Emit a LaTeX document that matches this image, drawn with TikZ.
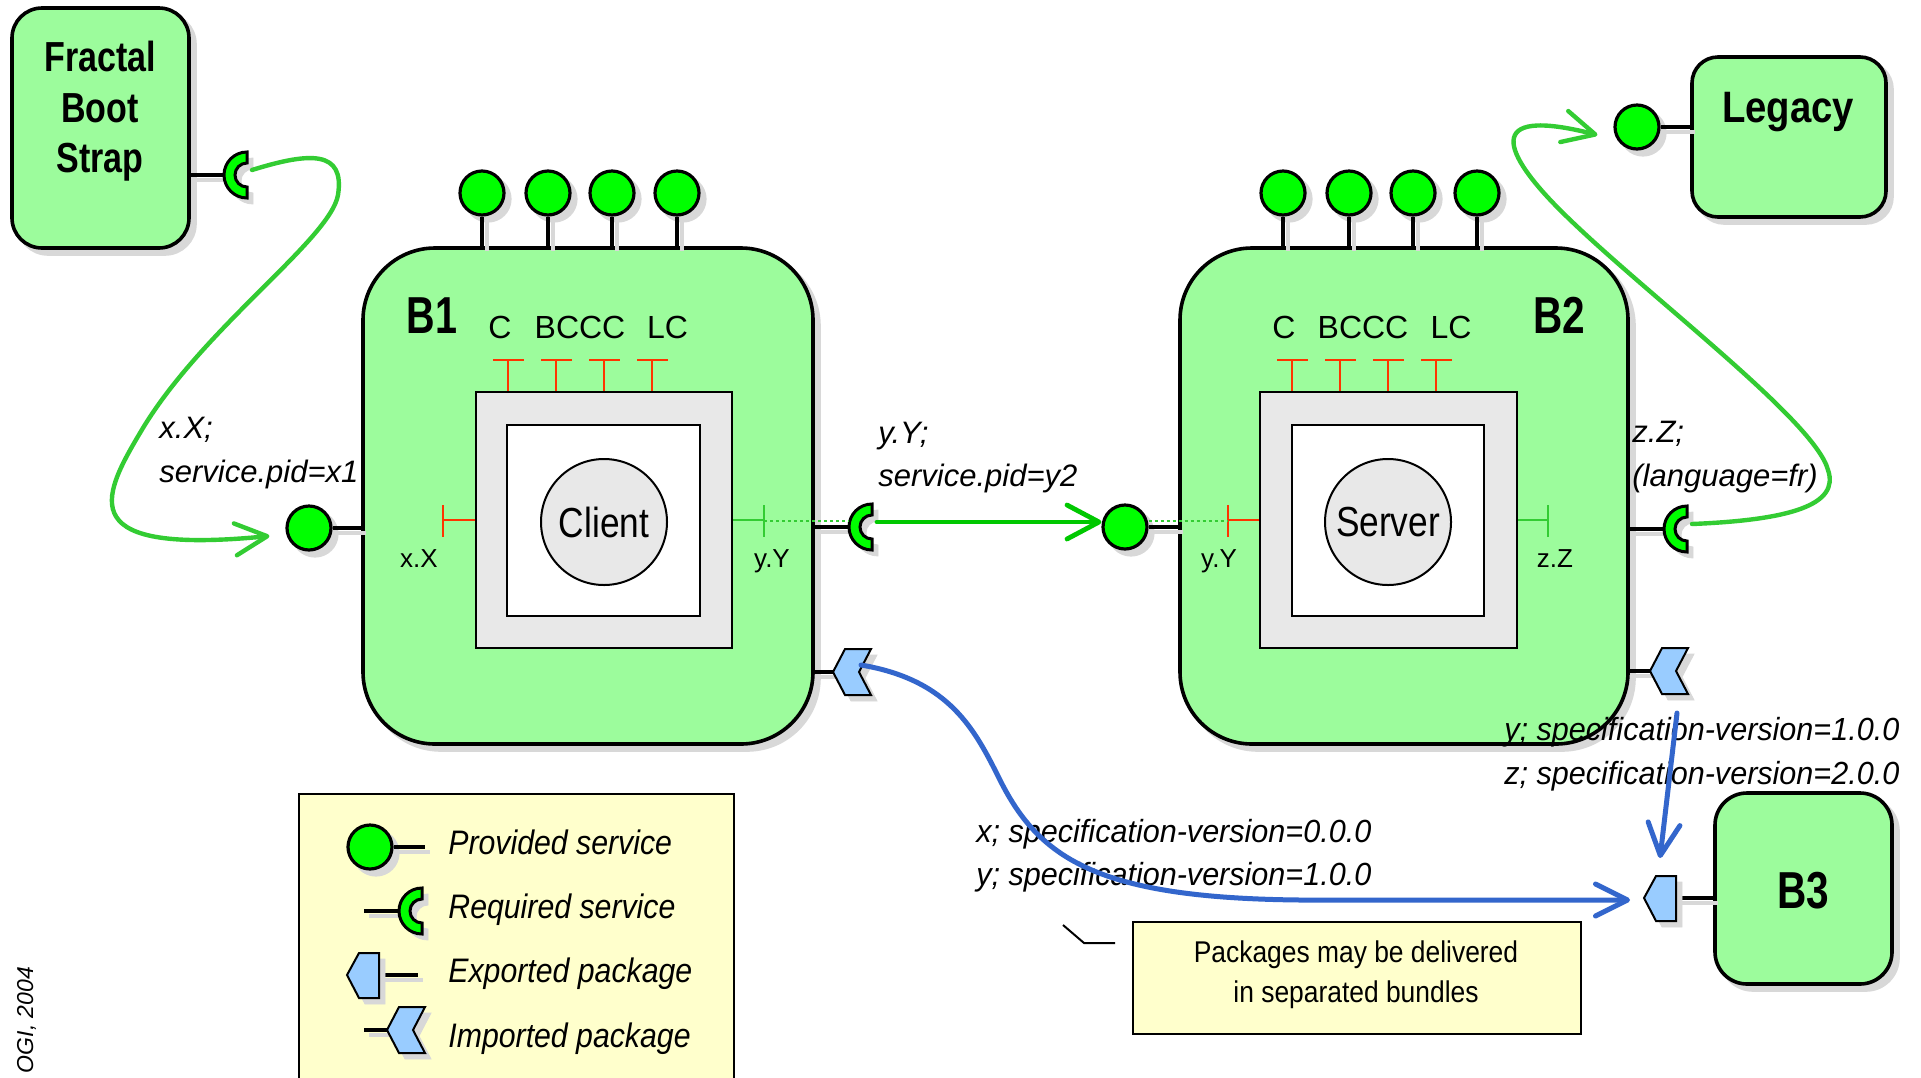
\documentclass[tikz,border=0pt]{standalone}
\usepackage{fontspec}
\setmainfont{Liberation Sans}
\usepackage{graphicx}
\usetikzlibrary{arrows.meta}
\definecolor{boxg}{HTML}{9CFC9C}
\definecolor{dotg}{HTML}{00FF00}
\definecolor{curveg}{HTML}{33CC33}
\definecolor{arrowg}{HTML}{00C800}
\definecolor{blueline}{HTML}{3366CC}
\definecolor{pkgblue}{HTML}{99CCFF}
\definecolor{greysq}{HTML}{E8E8E8}
\definecolor{redmark}{HTML}{FF3300}
\definecolor{notey}{HTML}{FFFFCC}
\definecolor{shadowc}{HTML}{D8D8D8}
\newcommand\hsc[2]{\scalebox{#1}[1]{#2}}
\newcommand\fsz[1]{\fontsize{#1}{#1}\selectfont}
\begin{document}
\begin{tikzpicture}[x=0.5pt,y=-0.5pt,
  shad/.style={preaction={fill=shadowc,draw=shadowc,transform canvas={shift={(3pt,-3pt)}}}},
  bundle/.style={shad,draw,line width=1.8pt,fill=boxg,inner sep=0pt},
  prov/.style={shad,circle,draw,line width=1.6pt,fill=dotg,minimum size=22pt,inner sep=0pt},
  ringsty/.style={shad,draw,line width=1.5pt,fill=dotg,line join=miter},
  pkgsty/.style={shad,draw,line width=1pt,fill=pkgblue},
  stem/.style={line width=1.6pt,preaction={draw=shadowc,line width=1.6pt,transform canvas={shift={(2.5pt,-2.5pt)}}}},
  redmk/.style={draw=redmark,line width=1pt},
  grnmk/.style={draw=curveg,line width=1pt},
  dotln/.style={draw=curveg,line width=1pt,dash pattern=on 1.5pt off 1.5pt},
  gcurve/.style={draw=curveg,line width=2.2pt,line cap=round},
  garrow/.style={draw=arrowg,line width=2.4pt,line cap=round},
  bcurve/.style={draw=blueline,line width=2.5pt,line cap=round},
  barb/.style={-{Straight Barb[length=16pt,width=16pt,round]}},
  title/.style={inner sep=0pt,anchor=base,font=\fsz{21}\bfseries},
  ilbl/.style={inner sep=0pt,anchor=base west,font=\fsz{15.5}\itshape},
  slbl/.style={inner sep=0pt,anchor=base,font=\fsz{13}},
  clbl/.style={inner sep=0pt,anchor=base,font=\fsz{16}},
  spec/.style={inner sep=0pt,anchor=base west,font=\fsz{16}\itshape},
  leg/.style={inner sep=0pt,anchor=base west,font=\fsz{17}\itshape},
  reqring/.pic={
    \path[ringsty] (0,-23) arc (270:90:23) -- (0,12) arc (90:270:12) -- cycle;
    \coordinate (-in) at (-23,0);
    \coordinate (-dot) at (-23,-6);
    \coordinate (-out) at (5,-5);
  },
  impchev/.pic={
    \path[pkgsty] (0,0) -- (12,-23) -- (38,-23) -- (26,0) -- (38,23) -- (12,23) -- cycle;
    \coordinate (-tip) at (0,0);
    \coordinate (-out) at (28,-7);
    \coordinate (-down) at (27,42);
  },
  exppent/.pic={
    \path[pkgsty] (0,0) -- (12,-22) -- (32,-22) -- (32,23) -- (12,23) -- cycle;
    \coordinate (-east) at (32,0);
    \coordinate (-tip) at (-14,2);
    \coordinate (-top) at (16,-40);
  }
]
\useasboundingbox (0,0) rectangle (1921,1077);
\fill[white] (0,0) rectangle (1921,1077);

% ---------- legend and note ----------
\node[draw,line width=1pt,fill=notey,minimum width=217.5pt,minimum height=165pt,anchor=north west,inner sep=0pt] (legend) at (298,793) {};
\node[draw,line width=1pt,fill=notey,minimum width=224pt,minimum height=56pt,anchor=north west,inner sep=0pt] (note) at (1132,921) {};
\node[inner sep=0pt,anchor=base,font=\fsz{15}] (note1) at (1356,962) {\hsc{0.88}{Packages may be delivered}};
\node[inner sep=0pt,anchor=base,font=\fsz{15}] (note2) at (1356,1002) {\hsc{0.88}{in separated bundles}};
\coordinate (ld1) at (1063,925);
\coordinate (ld2) at (1084,943);
\coordinate (ld3) at (1115,943);
\draw[line width=1pt] (ld1) -- (ld2) -- (ld3);

\node[prov] (lgp) at (370,847) {};
\coordinate (lgpe) at (425,847);
\draw[stem] (lgp.east) -- (lgpe);
\coordinate (lgre) at (364,911);
\draw[stem] (lgre) -- (399,911);
\pic (lgr) at (422,911) {reqring};
\coordinate (lgee) at (418,975);
\draw[stem] (379,975) -- (lgee);
\pic (lge) at (347,975) {exppent};
\coordinate (lgie) at (364,1030);
\draw[stem] (lgie) -- (388,1030);
\pic (lgi) at (387,1030) {impchev};
\node[leg] (lt1) at (448,854) {\hsc{0.89}{Provided service}};
\node[leg] (lt2) at (448,918) {\hsc{0.89}{Required service}};
\node[leg] (lt3) at (448,982) {\hsc{0.89}{Exported package}};
\node[leg] (lt4) at (448,1047) {\hsc{0.89}{Imported package}};

\node[rotate=90,inner sep=0pt,anchor=base,font=\fsz{11.5}\itshape] (ogi) at (33,1020) {OGI, 2004};

% ---------- Fractal Boot Strap ----------
\node[bundle,minimum width=88.5pt,minimum height=120pt,rounded corners=15pt] (fbs) at (100.5,128) {};
\node[title] (fbs1) at (100,71) {\hsc{0.81}{Fractal}};
\node[title] (fbs2) at (100,122) {\hsc{0.81}{Boot}};
\node[title] (fbs3) at (100,172) {\hsc{0.81}{Strap}};
\draw[stem] (fbs.east |- 0,175) -- (225,175);
\pic (r0) at (247,175) {reqring};

% ---------- Legacy ----------
\node[bundle,minimum width=97pt,minimum height=80pt,rounded corners=13pt] (leg) at (1789,137) {};
\node[title,font=\fsz{22}\bfseries] (legt) at (1788,122) {\hsc{0.87}{Legacy}};
\node[prov] (pl) at (1637,127) {};
\draw[stem] (pl.east) -- (pl.east -| leg.west);

% ---------- B3 ----------
\node[bundle,minimum width=88.5pt,minimum height=95.5pt,rounded corners=16pt] (b3) at (1803.5,888.5) {};
\node[title,font=\fsz{26}\bfseries] (b3t) at (1803,908) {\hsc{0.78}{B3}};
\draw[stem] (1676,898) -- (b3.west |- 0,898);
\pic (e3) at (1644,898) {exppent};

% ---------- B1 ----------
\node[bundle,minimum width=225pt,minimum height=248pt,rounded corners=36pt] (b1) at (588,496) {};
\foreach \i/\x in {1/482,2/548,3/612,4/677}{
  \node[prov] (b1p\i) at (\x,193) {};
  \draw[stem] (b1p\i.south) -- (b1p\i.south |- b1.north);
}
\node[title,font=\fsz{26}\bfseries] (b1t) at (432,333) {\hsc{0.76}{B1}};
\node[clbl] (b1c1) at (500,338) {C};
\node[clbl] (b1c2) at (580,338) {BCCC};
\node[clbl] (b1c3) at (667.5,338) {LC};
\foreach \x in {508,556,604,652}{
  \draw[redmk] (\x-15,360) -- (\x+16,360) (\x,360) -- (\x,392);
}
\node[draw,line width=1pt,fill=greysq,minimum width=128pt,minimum height=128pt,inner sep=0pt] (c1o) at (604,520) {};
\node[draw,line width=1pt,fill=white,minimum width=96.5pt,minimum height=95.5pt,inner sep=0pt] (c1i) at (603.5,520.5) {};
\node[circle,draw,line width=1pt,fill=greysq,minimum size=63pt,inner sep=0pt,font=\fsz{21}] (client) at (604,522) {\hsc{0.84}{Client}};
\draw[redmk] (c1o.west) -- (443,520) (443,505) -- (443,537);
\draw[grnmk] (c1o.east) -- (764,520) (764,505) -- (764,537);
\node[slbl] (b1xx) at (419,567) {x.X};
\node[slbl] (b1yy) at (772,567) {y.Y};
\node[prov] (pc1) at (309,528) {};
\draw[stem] (pc1.east) -- (pc1.east -| b1.west);
\draw[stem] (b1.east |- 0,527) -- (850,527);
\pic (r1) at (872,527) {reqring};
\draw[dotln] (764,521) -- (r1-dot);
\draw[stem] (b1.east |- 0,672) -- (834,672);
\pic (i1) at (833,672) {impchev};

% ---------- B2 ----------
\node[bundle,minimum width=224pt,minimum height=248pt,rounded corners=36pt] (b2) at (1404,496) {};
\foreach \i/\x in {1/1283,2/1349,3/1413,4/1477}{
  \node[prov] (b2p\i) at (\x,193) {};
  \draw[stem] (b2p\i.south) -- (b2p\i.south |- b2.north);
}
\node[title,font=\fsz{26}\bfseries] (b2t) at (1559,333) {\hsc{0.78}{B2}};
\node[clbl] (b2c1) at (1284,338) {C};
\node[clbl] (b2c2) at (1363,338) {BCCC};
\node[clbl] (b2c3) at (1451,338) {LC};
\foreach \x in {1292,1340,1388,1436}{
  \draw[redmk] (\x-15,360) -- (\x+16,360) (\x,360) -- (\x,392);
}
\node[draw,line width=1pt,fill=greysq,minimum width=128.5pt,minimum height=128pt,inner sep=0pt] (c2o) at (1388.5,520) {};
\node[draw,line width=1pt,fill=white,minimum width=96pt,minimum height=95.5pt,inner sep=0pt] (c2i) at (1388,520.5) {};
\node[circle,draw,line width=1pt,fill=greysq,minimum size=63pt,inner sep=0pt,font=\fsz{21}] (server) at (1388,522) {\hsc{0.84}{Server}};
\draw[redmk] (c2o.west) -- (1228,520) (1228,505) -- (1228,537);
\draw[grnmk] (c2o.east) -- (1548,520) (1548,505) -- (1548,537);
\node[slbl] (b2yy) at (1219,567) {y.Y};
\node[slbl] (b2zz) at (1555,567) {z.Z};
\node[prov] (pc2) at (1125,527) {};
\draw[stem] (pc2.east) -- (pc2.east -| b2.west);
\draw[dotln] ([yshift=3pt]pc2.east) -- (1228,521);
\draw[stem] (b2.east |- 0,529) -- (1665,529);
\pic (r2) at (1687,529) {reqring};
\draw[stem] (b2.east |- 0,671) -- (1651,671);
\pic (i2) at (1650,671) {impchev};

% ---------- labels ----------
\node[ilbl] (lx1) at (159,438) {x.X;};
\node[ilbl] (lx2) at (159,482) {service.pid=x1};
\node[ilbl] (ly1) at (878,443) {y.Y;};
\node[ilbl] (ly2) at (878,486) {service.pid=y2};
\node[ilbl] (lz1) at (1632,442) {z.Z;};
\node[ilbl] (lz2) at (1632,486) {(language=fr)};
\node[spec] (sr1) at (1504,740) {\hsc{0.955}{y; specification-version=1.0.0}};
\node[spec] (sr2) at (1504,784) {\hsc{0.955}{z; specification-version=2.0.0}};
\node[spec] (sl1) at (976,842) {\hsc{0.955}{x; specification-version=0.0.0}};
\node[spec] (sl2) at (976,885) {\hsc{0.955}{y; specification-version=1.0.0}};

% ---------- connectors ----------
\coordinate (pc1a) at ([xshift=-8pt,yshift=-4pt]pc1.west);
\draw[gcurve,barb] (r0-out) .. controls (310,152) and (345,150) .. (338,195)
  .. controls (330,240) and (200,330) .. (140,433)
  .. controls (100,500) and (75,555) .. (pc1a);
\draw[garrow,-{Straight Barb[length=16pt,width=17pt,round]}] (r1-out) -- (r1-out -| pc2.west);
\coordinate (pla) at ([xshift=-8pt,yshift=-4pt]pl.west);
\draw[gcurve,barb] (r2-out) .. controls (1790,520) and (1840,505) .. (1828,470)
  .. controls (1815,420) and (1640,290) .. (1560,210)
  .. controls (1505,155) and (1480,105) .. (pla);
\draw[bcurve,barb] (i1-out) .. controls (950,680) and (975,730) .. (1000,780)
  .. controls (1040,860) and (1100,898) .. (1300,900) -- (e3-tip);
\draw[bcurve,barb] (i2-down) -- (e3-top);
\end{tikzpicture}
\end{document}
